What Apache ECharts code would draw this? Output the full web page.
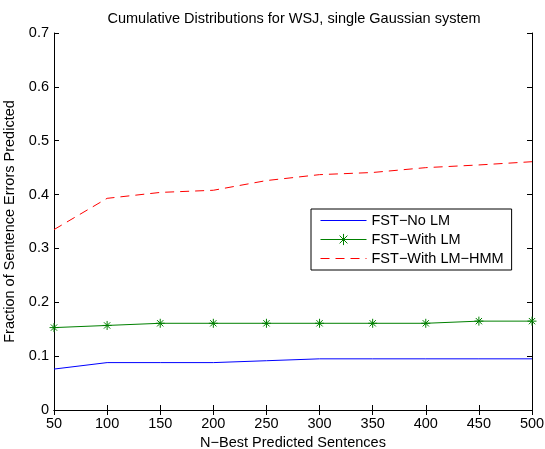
<!DOCTYPE html>
<html>
<head>
<meta charset="utf-8">
<script src="https://cdn.jsdelivr.net/npm/echarts@6/dist/echarts.min.js"></script>
<style>
  html, body { margin: 0; padding: 0; background: #fff; }
  #chart { width: 545px; height: 449px; }
</style>
</head>
<body>
<div id="chart"></div>
<script>
// values
const nBest = [50, 100, 150, 200, 250, 300, 350, 400, 450, 500]
const noLm = [0.076, 0.088, 0.088, 0.088, 0.0915, 0.095, 0.095, 0.095, 0.095, 0.095]
const withLm = [0.153, 0.157, 0.161, 0.161, 0.161, 0.161, 0.161, 0.161, 0.165, 0.165]
const withLmHmm = [0.335, 0.393, 0.404, 0.408, 0.426, 0.437, 0.441, 0.45, 0.455, 0.461]

const FONT = 'Liberation Sans, Arial, Helvetica, sans-serif'
const FS = 14.5
const ASTERISK = 'path://M0,-1L0,1M-1,0L1,0M-0.7,-0.7L0.7,0.7M-0.7,0.7L0.7,-0.7'

const pair = (ys) => nBest.map((x, i) => [x, ys[i]])

const frameAxis = {
  axisLine: { show: true, lineStyle: { color: '#000', width: 1 } },
  axisTick: { show: true, inside: true, length: 5, lineStyle: { color: '#000' } },
  splitLine: { show: false },
}

// plain-line legend entries: hide the default circle marker
const hiddenMarker = { color: 'transparent', borderColor: 'transparent', borderWidth: 0 }

const chart = echarts.init(document.getElementById('chart'), null, { renderer: 'canvas' })

chart.setOption({
  backgroundColor: '#fff',
  animation: false,
  textStyle: { fontFamily: FONT },
  title: {
    text: 'Cumulative Distributions for WSJ, single Gaussian system',
    left: 294,
    textAlign: 'center',
    top: 11,
    padding: 0,
    textStyle: { fontSize: FS, fontWeight: 'normal', color: '#000', fontFamily: FONT },
  },
  grid: { left: 54, right: 13, top: 33, bottom: 39, containLabel: false, outerBoundsMode: 'none' },
  legend: {
    orient: 'vertical',
    left: 311,
    top: 209,
    width: 196,
    padding: [4, 8, 4, 9],
    itemGap: 4,
    itemWidth: 46,
    itemHeight: 14,
    borderColor: '#000',
    borderWidth: 1,
    borderRadius: 0,
    backgroundColor: '#fff',
    lineStyle: { width: 1 },
    textStyle: { fontSize: FS, color: '#000', fontFamily: FONT },
    data: [
      { name: 'FST\u2212No LM', itemStyle: hiddenMarker },
      { name: 'FST\u2212With LM', itemStyle: { color: 'transparent', borderColor: '#008000', borderWidth: 1 } },
      { name: 'FST\u2212With LM\u2212HMM', itemStyle: hiddenMarker },
    ],
  },
  xAxis: [
    {
      type: 'value',
      min: 50,
      max: 500,
      interval: 50,
      name: 'N\u2212Best Predicted Sentences',
      nameLocation: 'middle',
      nameGap: 21,
      nameTextStyle: { fontSize: FS, color: '#000' },
      axisLabel: { fontSize: FS, color: '#000', margin: 6 },
      ...frameAxis,
    },
    {
      type: 'value',
      position: 'top',
      min: 50,
      max: 500,
      interval: 50,
      axisLabel: { show: false },
      ...frameAxis,
    },
  ],
  yAxis: [
    {
      type: 'value',
      min: 0,
      max: 0.7,
      interval: 0.1,
      name: 'Fraction of Sentence Errors Predicted',
      nameLocation: 'middle',
      nameGap: 32,
      nameTextStyle: { fontSize: FS, color: '#000' },
      axisLabel: { fontSize: FS, color: '#000', margin: 5, formatter: (v) => (v === 0 ? '0' : v.toFixed(1)) },
      ...frameAxis,
    },
    {
      type: 'value',
      position: 'right',
      min: 0,
      max: 0.7,
      interval: 0.1,
      axisLabel: { show: false },
      ...frameAxis,
    },
  ],
  series: [
    {
      name: 'FST\u2212No LM',
      type: 'line',
      data: pair(noLm),
      symbol: 'none',
      lineStyle: { color: '#0000ff', width: 1 },
      itemStyle: { color: '#0000ff' },
    },
    {
      name: 'FST\u2212With LM',
      type: 'line',
      data: pair(withLm),
      symbol: ASTERISK,
      symbolSize: 9,
      lineStyle: { color: '#008000', width: 1 },
      itemStyle: { color: 'none', borderColor: '#008000', borderWidth: 1 },
    },
    {
      name: 'FST\u2212With LM\u2212HMM',
      type: 'line',
      data: pair(withLmHmm),
      symbol: 'none',
      lineStyle: { color: '#ff0000', width: 1, type: [9, 6] },
      itemStyle: { color: '#ff0000' },
    },
  ],
})
</script>
</body>
</html>
